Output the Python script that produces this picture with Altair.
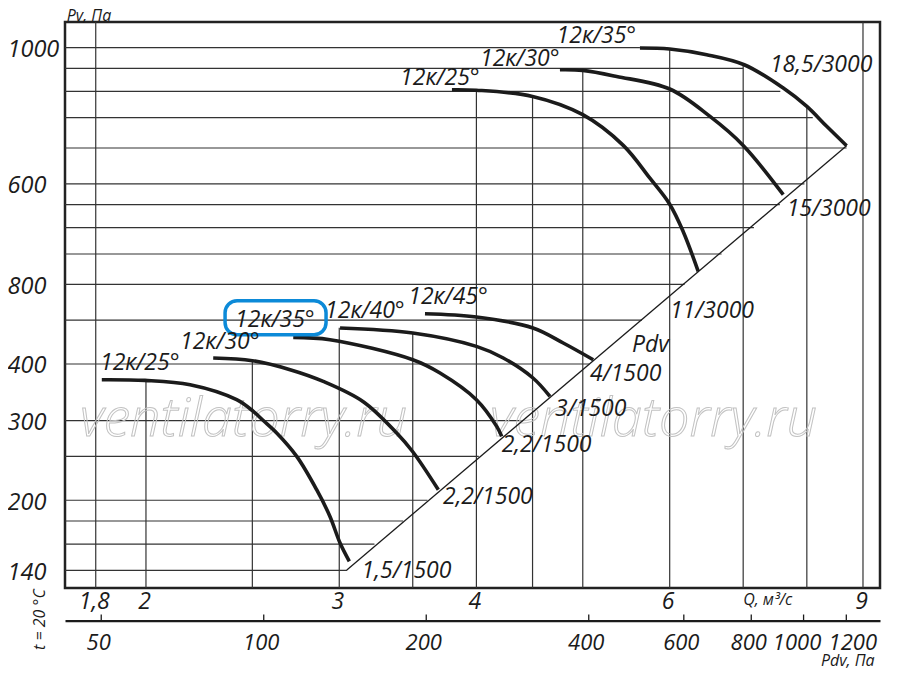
import altair as alt
import pandas as pd

# ---------------- scale extents (data units) ----------------
Q_MIN, Q_MAX = 1.6876, 9.327          # Q, m3/s (log)
PV_MIN, PV_MAX = 128.0, 2278.0        # Pv, Pa (log)
PDV_MIN, PDV_MAX = 42.84, 1385.4      # Pdv, Pa (log)

# ---------------- fan curves ----------------
curve_ids = ["A", "B", "C", "D", "E", "F", "G", "H"]
curve_q = {
    "A": [1.823, 1.996, 2.194, 2.419, 2.505, 2.558, 2.631, 2.744, 2.861, 2.942, 3.005, 3.064],
    "B": [2.303, 2.5, 2.706, 2.901, 3.155, 3.384, 3.5, 3.693],
    "C": [2.724, 2.942, 3.5, 3.706, 4.0, 4.174, 4.218],
    "D": [3.005, 3.5, 4.0, 4.232, 4.504, 4.667],
    "E": [3.591, 4.0, 4.504, 4.799, 5.111],
    "F": [3.800, 4.0, 4.5, 5.0, 5.443, 5.756, 6.0, 6.173, 6.370],
    "G": [4.766, 5.0, 5.368, 6.0, 6.529, 7.0, 7.614],
    "H": [5.637, 6.0, 6.484, 7.015, 7.614, 8.0, 8.34, 8.696],
}
curve_pv = {
    "A": [369.3, 368.0, 360.0, 333.6, 314.3, 300.0, 281.6, 250.0, 211.0, 184.2, 160.9, 146.6],
    "B": [412.4, 406.8, 388.6, 366.1, 330.2, 281.6, 256.0, 211.0],
    "C": [458.0, 452.6, 408.8, 382.1, 333.6, 291.2, 276.8],
    "D": [480.4, 468.3, 437.5, 412.4, 372.5, 339.2],
    "E": [516.6, 508.0, 480.4, 445.1, 408.8],
    "F": [1614, 1610, 1560, 1421.6, 1216, 1029, 901.7, 784, 640.6],
    "G": [1787, 1781, 1727, 1620, 1409, 1216, 946.3],
    "H": [1996, 1986, 1929, 1833, 1628, 1483, 1340, 1214],
}

# Pdv line
diag_q = [3.048, 8.696]
diag_pv = [140.3, 1214.0]

# ---------------- grid (partial lines) ----------------
h_grid_pv = [2000, 1800, 1600, 1400, 1200, 1000, 900, 800, 700, 600, 500, 400, 300, 250, 200, 180, 160, 140]
h_grid_q_end = [5.637, 7.0, 7.567, 8.10, 8.696, 7.96, 7.56, 7.16, 6.69, 6.19, 5.66, 5.07, 4.41, 4.02, 3.61, 3.43, 3.23, 3.05]
v_grid_q = [1.8, 2, 2.5, 3, 3.5, 4, 4.5, 5, 6, 7, 8, 9]
v_grid_pv_top = [PV_MAX, 368, 406.8, 481, 468.3, 1614, 1560, 1781, 1986, 1833, 1483, PV_MAX]

# ---------------- ticks ----------------
q_tick_values = [1.8, 2, 3, 4, 6, 9]
q_tick_labels = ["1,8", "2", "3", "4", "6", "9"]
pv_tick_values = [140, 200, 300, 400, 600, 1000, 2000]
pv_tick_labels = ["140", "200", "300", "400", "800", "600", "1000"]
pdv_tick_values = [50, 100, 200, 400, 600, 800, 1000, 1200]
pdv_tick_labels = ["50", "100", "200", "400", "600", "800", "1000", "1200"]

# ---------------- annotations ----------------
big_labels = ["12к/25°", "12к/30°", "12к/35°", "12к/40°", "12к/45°",
              "12к/25°", "12к/30°", "12к/35°",
              "18,5/3000", "15/3000", "11/3000", "Pdv",
              "4/1500", "3/1500", "2,2/1500", "2,2/1500", "1,5/1500"]
big_q = [1.816, 2.148, 2.411, 2.912, 3.467,
         3.408, 4.030, 4.733,
         7.404, 7.668, 6.003, 5.543,
         5.076, 4.717, 4.218, 3.729, 3.144]
big_pv = [388.6, 432.4, 483.6, 506.2, 543.6,
          1656, 1824, 2050,
          1769, 850.5, 506.2, 425.8,
          366.1, 306.4, 256.0, 196.6, 134.9]

small_labels = ["Pv, Па", "Q, м³/с", "Pdv, Па"]
small_q = [1.694, 7.0, 8.24]
small_pv = [2290, 117.2, 86.0]

side_label = ["t = 20 °C"]
side_q = [1.601]
side_pv = [109.0]

wm_labels = ["ventilatorry.ru", "ventilatorry.ru"]
wm_q = [1.742, 4.116]
wm_pv = [277.8, 277.8]

box_q = [2.361, 2.918]
box_pv = [464.3, 552.0]

# ---------------- styles ----------------
INK = "#1b1b1b"
GRID = "#333333"
FONT = "Open Sans"


def lab_expr(vals, labs):
    e = "''"
    for v, l in reversed(list(zip(vals, labs))):
        e = f"(abs(datum.value - {v}) < 1e-6 ? '{l}' : {e})"
    return e


xs = alt.Scale(type="log", domain=[Q_MIN, Q_MAX], nice=False)
ys = alt.Scale(type="log", domain=[PV_MIN, PV_MAX], nice=False)
pdvs = alt.Scale(type="log", domain=[PDV_MIN, PDV_MAX], nice=False)

q_axis = alt.Axis(values=q_tick_values, labelExpr=lab_expr(q_tick_values, q_tick_labels),
                  orient="bottom", ticks=False, tickSize=0, domain=False, grid=False,
                  labelPadding=20, labelBaseline="alphabetic", labelFontSize=23,
                  labelFlush=False, labelOverlap=False, title=None, labelOffset=-2)
pv_axis = alt.Axis(values=pv_tick_values, labelExpr=lab_expr(pv_tick_values, pv_tick_labels),
                   orient="left", ticks=False, tickSize=0, domain=False, grid=False,
                   labelAlign="left", labelPadding=58, labelBaseline="middle", labelFontSize=23.5,
                   labelFlush=False, labelOverlap=False, labelBound=False, labelLimit=0,
                   title=None, labelOffset=2)
pdv_axis = alt.Axis(values=pdv_tick_values, labelExpr=lab_expr(pdv_tick_values, pdv_tick_labels),
                    orient="bottom", offset=32.7, ticks=False, tickSize=0, domain=True,
                    domainColor=INK, domainWidth=2.2, grid=False,
                    labelPadding=29, labelBaseline="alphabetic", labelFontSize=22,
                    labelFlush=False, labelOverlap=False, title=None,
                    labelOffset={"condition": [{"test": "datum.value == 1000", "value": -7},
                                               {"test": "datum.value == 1200", "value": 6}],
                                 "value": -3})

# ---------------- data frames ----------------
rows = []
for cid in curve_ids:
    for i, (q, pv) in enumerate(zip(curve_q[cid], curve_pv[cid])):
        rows.append({"curve": cid, "i": i, "q": q, "pv": pv})
curves_df = pd.DataFrame(rows)
diag_df = pd.DataFrame({"q": diag_q, "pv": diag_pv, "i": [0, 1]})
h_df = pd.DataFrame({"pv": h_grid_pv, "q0": [Q_MIN] * len(h_grid_pv), "q1": h_grid_q_end})
v_df = pd.DataFrame({"q": v_grid_q, "pv0": [PV_MIN] * len(v_grid_q), "pv1": v_grid_pv_top})
big_df = pd.DataFrame({"label": big_labels, "q": big_q, "pv": big_pv})
small_df = pd.DataFrame({"label": small_labels, "q": small_q, "pv": small_pv})
side_df = pd.DataFrame({"label": side_label, "q": side_q, "pv": side_pv})
wm_df = pd.DataFrame({"label": wm_labels, "q": wm_q, "pv": wm_pv})
box_df = pd.DataFrame({"q0": [box_q[0]], "q1": [box_q[1]], "pv0": [box_pv[0]], "pv1": [box_pv[1]]})
pdv_df = pd.DataFrame({"pdv": pdv_tick_values})


def X(field):
    return alt.X(field, scale=xs, axis=None)


def Y(field):
    return alt.Y(field, scale=ys, axis=pv_axis)


# ---------------- layers ----------------
v_rules = alt.Chart(v_df).mark_rule(color=GRID, strokeWidth=1.2).encode(
    x=alt.X("q:Q", scale=xs, axis=q_axis), y=Y("pv1:Q"), y2="pv0:Q",
)
h_rules = alt.Chart(h_df).mark_rule(color=GRID, strokeWidth=1.2).encode(
    x=X("q0:Q"), x2="q1:Q", y=Y("pv:Q"),
)
watermark = alt.Chart(wm_df).mark_text(
    align="left", baseline="alphabetic", font=FONT, fontSize=54, fontStyle="italic",
    fontWeight=300, fillOpacity=0, stroke="#c2c2c2", strokeWidth=1.0,
).encode(x=X("q:Q"), y=Y("pv:Q"), text="label:N")
diag = alt.Chart(diag_df).mark_line(color=INK, strokeWidth=1.3).encode(
    x=X("q:Q"), y=Y("pv:Q"), order="i:Q"
)
curves = alt.Chart(curves_df).mark_line(color=INK, strokeWidth=3.6, interpolate="catmull-rom").encode(
    x=X("q:Q"), y=Y("pv:Q"), detail="curve:N", order="i:Q",
)
box = alt.Chart(box_df).mark_rect(fillOpacity=0, stroke="#0c8ad8", strokeWidth=3.5, cornerRadius=12).encode(
    x=X("q0:Q"), x2="q1:Q", y=Y("pv0:Q"), y2="pv1:Q",
)
big_text = alt.Chart(big_df).mark_text(
    align="left", baseline="alphabetic", font=FONT, fontSize=23, fontStyle="italic", color=INK
).encode(x=X("q:Q"), y=Y("pv:Q"), text="label:N")
small_text = alt.Chart(small_df).mark_text(
    align="left", baseline="alphabetic", font=FONT, fontSize=16, fontStyle="italic", color=INK
).encode(x=X("q:Q"), y=Y("pv:Q"), text="label:N")
side_text = alt.Chart(side_df).mark_text(
    align="center", baseline="middle", font=FONT, fontSize=16, fontStyle="italic", color=INK, angle=270
).encode(x=X("q:Q"), y=Y("pv:Q"), text="label:N")
pdv_ticks = alt.Chart(pdv_df).mark_rule(color=INK, strokeWidth=1.3).encode(
    x=alt.X("pdv:Q", scale=pdvs, axis=pdv_axis),
    y=alt.value(592.5),
    y2=alt.value(598.7),
)

chart = alt.layer(
    v_rules, h_rules, watermark, diag, curves, box, big_text, small_text, side_text, pdv_ticks
).resolve_scale(x="independent").properties(
    width=815, height=566,
    padding={"left": 57, "top": 14, "right": 10, "bottom": 82},
    autosize=alt.AutoSizeParams(type="none"),
).configure_view(
    stroke="#222222", strokeWidth=2.5
).configure_axis(
    labelFont=FONT, labelFontStyle="italic", labelColor=INK
)

chart.save("out.html", embed_options={"renderer": "svg", "actions": False})
